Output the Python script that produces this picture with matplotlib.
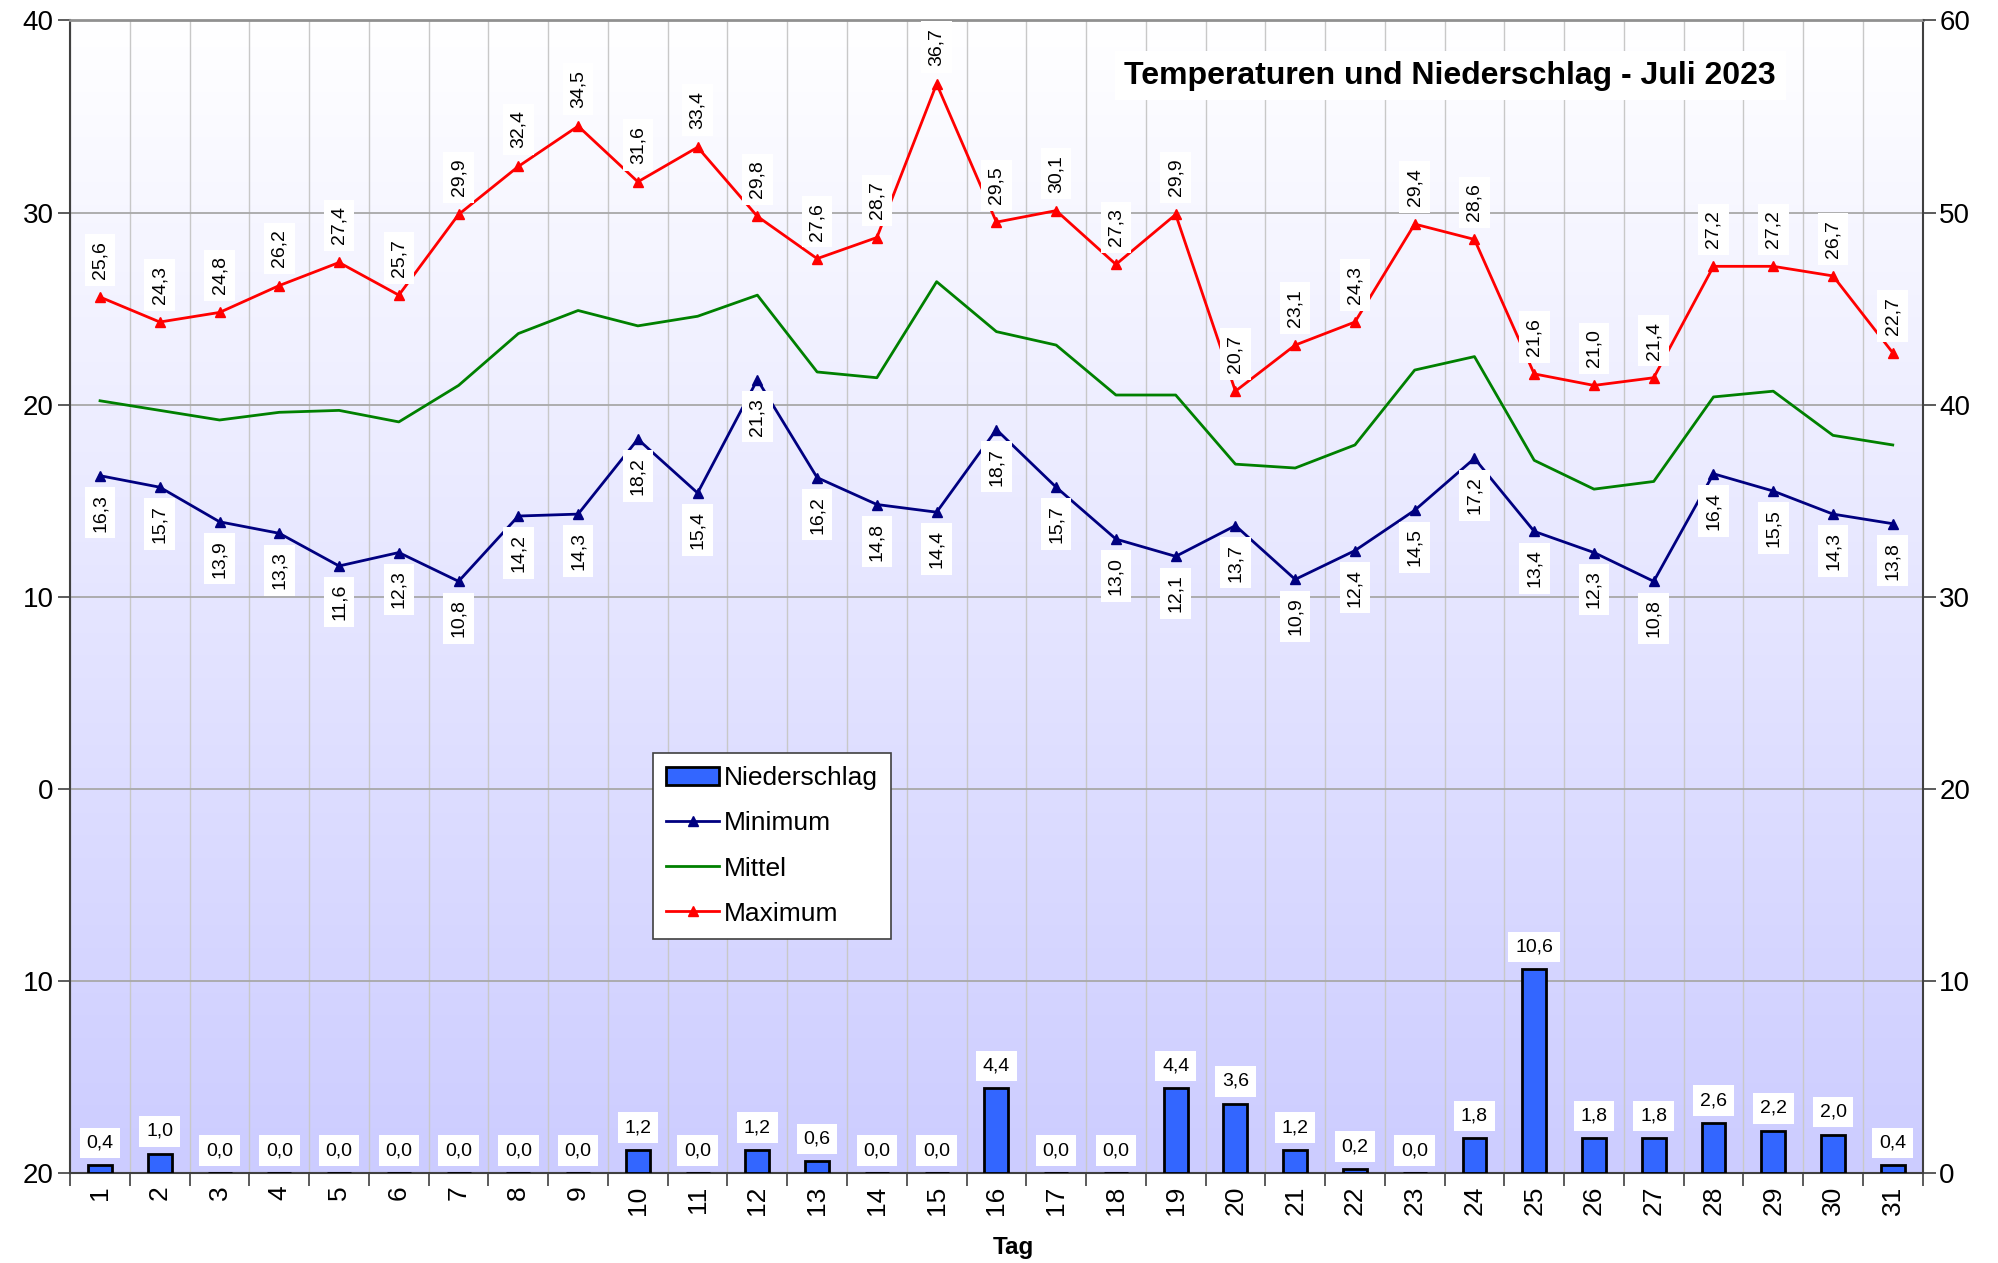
import matplotlib
matplotlib.use("Agg")
import matplotlib.pyplot as plt
import numpy as np
from matplotlib.patches import Patch
from matplotlib.lines import Line2D

plt.rcParams["font.family"] = ["Liberation Sans", "DejaVu Sans"]

# ==========================
# Data
# ==========================

tage = list(range(1, 32))

t_max = [25.6, 24.3, 24.8, 26.2, 27.4, 25.7, 29.9, 32.4, 34.5, 31.6, 33.4, 29.8, 27.6, 28.7, 36.7, 29.5,
         30.1, 27.3, 29.9, 20.7, 23.1, 24.3, 29.4, 28.6, 21.6, 21.0, 21.4, 27.2, 27.2, 26.7, 22.7]

t_min = [16.3, 15.7, 13.9, 13.3, 11.6, 12.3, 10.8, 14.2, 14.3, 18.2, 15.4, 21.3, 16.2, 14.8, 14.4, 18.7,
         15.7, 13.0, 12.1, 13.7, 10.9, 12.4, 14.5, 17.2, 13.4, 12.3, 10.8, 16.4, 15.5, 14.3, 13.8]

# Mittel has no labels in the original
t_mittel = [20.2, 19.7, 19.2, 19.6, 19.7, 19.1, 21.0, 23.7, 24.9, 24.1, 24.6, 25.7, 21.7, 21.4, 26.4, 23.8,
            23.1, 20.5, 20.5, 16.9, 16.7, 17.9, 21.8, 22.5, 17.1, 15.6, 16.0, 20.4, 20.7, 18.4, 17.9]

niederschlag = [0.4, 1.0, 0.0, 0.0, 0.0, 0.0, 0.0, 0.0, 0.0, 1.2, 0.0, 1.2, 0.6, 0.0, 0.0, 4.4,
                0.0, 0.0, 4.4, 3.6, 1.2, 0.2, 0.0, 1.8, 10.6, 1.8, 1.8, 2.6, 2.2, 2.0, 0.4]

left_ticks = [40, 30, 20, 10, 0, -10, -20]
right_ticks = [0, 10, 20, 30, 40, 50, 60]


def de(v):
    return f"{v:.1f}".replace(".", ",")


# ==========================
# Figure
# ==========================

fig = plt.figure(figsize=(19.99, 12.63), dpi=100)
ax = fig.add_axes([0.0351, 0.0713, 0.9267, 0.9125])

# background gradient white -> lavender
grad = np.linspace(0, 1, 256).reshape(-1, 1)
top_c = np.array([1.0, 1.0, 1.0])
bot_c = np.array([0.80, 0.80, 1.0])
img = top_c * (1 - grad[..., None]) + bot_c * grad[..., None]
ax.imshow(img, extent=[0, 1, 0, 1], transform=ax.transAxes, aspect="auto", zorder=0)

ax.set_xlim(0.5, 31.5)
ax.set_ylim(-20, 40)

# grid
ax.set_xticks(tage)
ax.set_xticklabels([str(t) for t in tage], rotation=90, fontsize=19)
ax.set_xticks(np.arange(0.5, 32, 1), minor=True)
ax.tick_params(axis="x", which="major", length=0, pad=9)
ax.tick_params(axis="x", which="minor", length=9, width=1.2, color="#404040", direction="out")
ax.grid(True, axis="x", which="minor", color="#c8c8c8", linewidth=1.0)

ax.set_yticks(left_ticks)
ax.set_yticklabels([str(abs(v)) for v in left_ticks], fontsize=20)
ax.tick_params(axis="y", length=9, width=1.2, color="#404040", direction="out", pad=3)
ax.grid(True, axis="y", which="major", color="#a8a8a8", linewidth=1.3)
ax.set_axisbelow(True)

for s in ["left", "bottom", "right"]:
    ax.spines[s].set_color("#404040")
    ax.spines[s].set_linewidth(1.5)
ax.spines["top"].set_color("#909090")
ax.spines["top"].set_linewidth(2)

# temperature lines
ax.plot(tage, t_min, color="#000080", lw=2, marker="^", ms=7, zorder=3)
ax.plot(tage, t_mittel, color="#008000", lw=2, zorder=3)
ax.plot(tage, t_max, color="#ff0000", lw=2, marker="^", ms=7, zorder=3)

box = dict(boxstyle="square,pad=0.35", fc="white", ec="none")
for x, v in zip(tage, t_max):
    ax.annotate(de(v), (x, v), xytext=(0, 13), textcoords="offset points", rotation=90,
                ha="center", va="bottom", fontsize=14, bbox=box, zorder=4)
for x, v in zip(tage, t_min):
    ax.annotate(de(v), (x, v), xytext=(0, -13), textcoords="offset points", rotation=90,
                ha="center", va="top", fontsize=14, bbox=box, zorder=4)

ax.text(0.745, 0.952, "Temperaturen und Niederschlag - Juli 2023", transform=ax.transAxes,
        ha="center", va="center", fontsize=23, fontweight="bold",
        bbox=dict(boxstyle="square,pad=0.3", fc="white", ec="none"), zorder=5)

# precipitation bars
ax2 = ax.twinx()
ax2.set_ylim(0, 60)
ax2.set_yticks(right_ticks)
ax2.set_yticklabels([str(v) for v in right_ticks], fontsize=20)
ax2.tick_params(axis="y", length=9, width=1.2, color="#404040", direction="out", pad=3)
for s in ax2.spines.values():
    s.set_visible(False)

ax2.bar(tage, niederschlag, width=0.4, color="#3366ff", edgecolor="black", linewidth=2, zorder=3)
for x, v in zip(tage, niederschlag):
    ax2.annotate(de(v), (x, v), xytext=(0, 10), textcoords="offset points",
                 ha="center", va="bottom", fontsize=14, bbox=box, zorder=4)

fig.text(0.507, 0.0125, "Tag", ha="center", va="center", fontsize=17.5, fontweight="bold")

handles = [
    Patch(facecolor="#3366ff", edgecolor="black", linewidth=2),
    Line2D([], [], color="#000080", lw=2, marker="^", ms=7),
    Line2D([], [], color="#008000", lw=2),
    Line2D([], [], color="#ff0000", lw=2, marker="^", ms=7),
]
leg = ax2.legend(handles, ["Niederschlag", "Minimum", "Mittel", "Maximum"],
                 loc="upper left", bbox_to_anchor=(0.3146, 0.3643), borderaxespad=0,
                 fontsize=19, frameon=True, fancybox=False, framealpha=1,
                 handlelength=2.0, handletextpad=0.2, labelspacing=0.8, borderpad=0.5)
leg.get_frame().set_edgecolor("#404040")
leg.get_frame().set_linewidth(1.2)

fig.savefig("out.png", dpi=100)
